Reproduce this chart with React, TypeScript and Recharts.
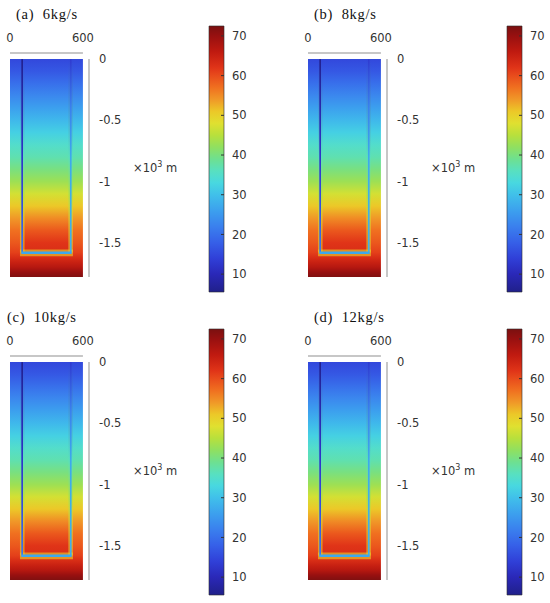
import { ComposedChart, XAxis, YAxis, ReferenceArea, ReferenceLine, Scatter } from 'recharts';

// panel captions
const titles = ['(a)  6kg/s', '(b)  8kg/s', '(c)  10kg/s', '(d)  12kg/s'];

// axis ticks
const xTicks = [0, 600];
const yTicks = [0, -0.5, -1, -1.5];
const barTicks = [10, 20, 30, 40, 50, 60, 70];
const tempRange = [5.5, 72.5];

// depths (x10^3 m) of the readings between the pipes, down to the U-bend
const insideDepthKm = [0, -0.1, -0.2, -0.3, -0.4, -0.5, -0.6, -0.7, -0.8, -0.9, -1.0, -1.1, -1.2, -1.3, -1.4, -1.5, -1.58];
// depths of the readings outside the pipes, down to the bottom of the model
const fieldDepthKm = [0, -0.1, -0.2, -0.3, -0.4, -0.5, -0.6, -0.7, -0.8, -0.9, -1.0, -1.1, -1.2, -1.3, -1.4, -1.5, -1.58, -1.62, -1.66, -1.7, -1.74, -1.78];

// temperature (degC) between the two pipes (100 m .. 500 m)
const insideA = [15, 17, 20, 23, 26, 29, 32, 35, 37, 40, 43, 47, 51, 55, 59, 62, 63];
const insideB = [15, 17, 20, 23, 26, 29, 32, 35, 37, 40, 43, 47, 51, 55, 59, 62, 63];
const insideC = [15, 17, 20, 23, 26, 29, 32, 35, 37, 40, 43, 47, 51, 55, 59, 62, 63];
const insideD = [15, 17, 20, 23, 26, 29, 32, 35, 37, 40, 43, 47, 51, 55, 59, 62, 63];

// temperature outside the pipes and under the bend
const outsideA = [15, 17, 20, 23, 26, 29, 32, 35, 37, 40, 43, 47, 51, 54, 57, 59, 61, 63, 65, 67, 70, 72];
const outsideB = [15, 17, 20, 23, 26, 29, 32, 35, 37, 40, 43, 47, 51, 54, 57, 59, 61, 63, 65, 67, 70, 72];
const outsideC = [15, 17, 20, 23, 26, 29, 32, 35, 37, 40, 43, 47, 51, 54, 57, 59, 61, 63, 65, 67, 70, 72];
const outsideD = [15, 17, 20, 23, 26, 29, 32, 35, 37, 40, 43, 47, 51, 54, 57, 59, 61, 63, 65, 67, 70, 72];

// pipe wall temperatures
const pipeDepthKm = [0, -0.4, -0.8, -1.2, -1.58];
const downPipe = [6, 9, 12, 16, 21];
const upPipe = [13, 22, 27, 28, 28];
const haloDepthKm = [0, -0.8, -1.1, -1.3, -1.58];
const pipeHalo = [15, 36, 43, 47, 50];
const bendTemp = [27, 27, 27, 27];

// legend colour table (degC -> colour)
const jetStops: [number, string][] = [
  [5.5, '#20208a'],
  [10, '#2a28b8'],
  [14, '#3040d8'],
  [18, '#3660e8'],
  [22, '#3a80ee'],
  [26, '#3ca0ee'],
  [30, '#40c0ea'],
  [33, '#48d8e0'],
  [36, '#58e0c0'],
  [39, '#6ee090'],
  [42, '#90e060'],
  [45, '#b8e03c'],
  [48, '#e0e030'],
  [51, '#ecc828'],
  [54, '#f09828'],
  [57, '#f07020'],
  [60, '#e84c1c'],
  [62, '#e03418'],
  [66, '#c01a10'],
  [70, '#981010'],
  [72.5, '#7a1010'],
];

const tickStyle = { fill: '#333', fontSize: 11.5, fontFamily: 'DejaVu Sans' };

function rgb(c: string) {
  return [1, 3, 5].map((i) => parseInt(c.slice(i, i + 2), 16));
}

function colorOf(t: number): string {
  if (t <= jetStops[0][0]) return jetStops[0][1];
  for (let i = 1; i < jetStops.length; i++) {
    if (t <= jetStops[i][0]) {
      const f = (t - jetStops[i - 1][0]) / (jetStops[i][0] - jetStops[i - 1][0]);
      const a = rgb(jetStops[i - 1][1]);
      const b = rgb(jetStops[i][1]);
      return `rgb(${a.map((v, k) => Math.round(v + (b[k] - v) * f)).join(',')})`;
    }
  }
  return jetStops[jetStops.length - 1][1];
}

function DepthGradient({ id, depths, temps }: { id: string; depths: number[]; temps: number[] }) {
  const top = depths[0];
  const bottom = depths[depths.length - 1];
  return (
    <linearGradient id={id} x1="0" y1="0" x2="0" y2="1">
      {depths.map((d, i) => (
        <stop key={i} offset={(top - d) / (top - bottom)} stopColor={colorOf(temps[i])} />
      ))}
    </linearGradient>
  );
}

// sample points are kept as an invisible series so the chart has data
const NoDot = () => <g />;

interface PanelProps {
  idx: number;
  left: number;
  top: number;
  titleX: number;
  inside: number[];
  outside: number[];
}

function Panel({ idx, left, top, titleX, inside, outside }: PanelProps) {
  const id = `p${idx}`;
  const samples = insideDepthKm.map((d, i) => ({ x: 300, y: d, t: inside[i] }));
  const legend = barTicks.map((v) => ({ x: 0.5, v }));
  const legendStops = [...jetStops].reverse();
  return (
    <div style={{ position: 'absolute', left, top, width: 298, height: 303 }}>
      <div
        style={{
          position: 'absolute',
          left: titleX,
          top: 6,
          fontFamily: '"Liberation Serif", serif',
          fontSize: 14.5,
          lineHeight: '16px',
          letterSpacing: 0.7,
          whiteSpace: 'pre',
          color: '#111',
        }}
      >
        {titles[idx]}
      </div>

      {/* temperature field */}
      <div style={{ position: 'absolute', left: 0, top: 0 }}>
        <ComposedChart width={298} height={303} data={samples} margin={{ top: 23, right: 169, bottom: 26, left: 10 }}>
          <defs>
            <DepthGradient id={`${id}-in`} depths={insideDepthKm} temps={inside} />
            <DepthGradient id={`${id}-out`} depths={fieldDepthKm} temps={outside} />
            <DepthGradient id={`${id}-down`} depths={pipeDepthKm} temps={downPipe} />
            <DepthGradient id={`${id}-up`} depths={pipeDepthKm} temps={upPipe} />
            <DepthGradient id={`${id}-halo`} depths={haloDepthKm} temps={pipeHalo} />
          </defs>
          <XAxis
            type="number"
            dataKey="x"
            orientation="top"
            domain={[0, 650]}
            ticks={xTicks}
            interval={0}
            height={30}
            axisLine={false}
            tickLine={false}
            tickSize={0}
            tickMargin={11}
            tick={tickStyle}
          />
          <YAxis
            type="number"
            dataKey="y"
            orientation="right"
            domain={[-1.78, 0.05]}
            ticks={yTicks}
            interval={0}
            width={40}
            axisLine={false}
            tickLine={false}
            tickSize={0}
            tickMargin={10}
            tick={tickStyle}
            tickFormatter={(v: number) => String(v)}
          />
          <ReferenceArea x1={0} x2={600} y1={0} y2={-1.78} fill={`url(#${id}-out)`} fillOpacity={1} />
          <ReferenceArea x1={100} x2={500} y1={0} y2={-1.58} fill={`url(#${id}-in)`} fillOpacity={1} />

          <ReferenceArea x1={82} x2={120} y1={0} y2={-1.58} fill={`url(#${id}-halo)`} fillOpacity={0.55} />
          <ReferenceArea x1={480} x2={518} y1={0} y2={-1.58} fill={`url(#${id}-halo)`} fillOpacity={0.55} />
          <ReferenceArea x1={82} x2={518} y1={-1.555} y2={-1.61} fill={colorOf(pipeHalo[pipeHalo.length - 1])} fillOpacity={0.6} />

          <ReferenceArea x1={93} x2={107} y1={0} y2={-1.58} fill={`url(#${id}-down)`} fillOpacity={1} />
          <ReferenceArea x1={493} x2={507} y1={0} y2={-1.58} fill={`url(#${id}-up)`} fillOpacity={1} />
          <ReferenceArea x1={93} x2={507} y1={-1.572} y2={-1.592} fill={colorOf(bendTemp[idx])} fillOpacity={1} />

          <ReferenceLine segment={[{ x: 0, y: 0.05 }, { x: 600, y: 0.05 }]} stroke="#b4b4b4" strokeWidth={1.5} />
          <ReferenceLine segment={[{ x: 650, y: 0 }, { x: 650, y: -1.78 }]} stroke="#b4b4b4" strokeWidth={1.5} />
          <Scatter dataKey="y" isAnimationActive={false} shape={NoDot} />
        </ComposedChart>
      </div>

      {/* colour legend */}
      <div style={{ position: 'absolute', left: 0, top: 0 }}>
        <ComposedChart width={298} height={303} data={legend} margin={{ top: 26, right: 34, bottom: 11, left: 208 }}>
          <defs>
            <linearGradient id={`${id}-bar`} x1="0" y1="0" x2="0" y2="1">
              {legendStops.map(([v, c], i) => (
                <stop key={i} offset={(tempRange[1] - v) / (tempRange[1] - tempRange[0])} stopColor={c} />
              ))}
            </linearGradient>
          </defs>
          <XAxis type="number" dataKey="x" domain={[0, 1]} hide />
          <YAxis
            type="number"
            yAxisId="l"
            orientation="left"
            domain={tempRange}
            ticks={barTicks}
            interval={0}
            width={1}
            axisLine={false}
            tickSize={-3}
            tickLine={{ stroke: '#333', strokeWidth: 1 }}
            tick={false}
          />
          <YAxis
            type="number"
            yAxisId="r"
            orientation="right"
            domain={tempRange}
            ticks={barTicks}
            interval={0}
            width={40}
            axisLine={false}
            tickSize={-3}
            tickMargin={11}
            tickLine={{ stroke: '#333', strokeWidth: 1 }}
            tick={tickStyle}
          />
          <ReferenceArea
            yAxisId="r"
            x1={0}
            x2={1}
            y1={tempRange[0]}
            y2={tempRange[1]}
            fill={`url(#${id}-bar)`}
            fillOpacity={1}
            stroke="#2b2b2b"
            strokeWidth={0.6}
          />
          <Scatter yAxisId="r" dataKey="v" isAnimationActive={false} shape={NoDot} />
        </ComposedChart>
      </div>

      <div
        style={{
          position: 'absolute',
          left: 133,
          top: 160,
          fontFamily: '"DejaVu Sans", sans-serif',
          fontSize: 11.5,
          lineHeight: '16px',
          color: '#333',
          whiteSpace: 'pre',
        }}
      >
        ×10<sup style={{ fontSize: 8, verticalAlign: 'top', lineHeight: '10px' }}>3</sup> m
      </div>
    </div>
  );
}

export default function App() {
  return (
    <div style={{ position: 'relative', width: 550, height: 603, background: '#fff', overflow: 'hidden' }}>
      <style>{'body{margin:0}'}</style>
      <Panel idx={0} left={0} top={0} titleX={16} inside={insideA} outside={outsideA} />
      <Panel idx={1} left={298} top={0} titleX={16} inside={insideB} outside={outsideB} />
      <Panel idx={2} left={0} top={303} titleX={7} inside={insideC} outside={outsideC} />
      <Panel idx={3} left={298} top={303} titleX={16} inside={insideD} outside={outsideD} />
    </div>
  );
}
